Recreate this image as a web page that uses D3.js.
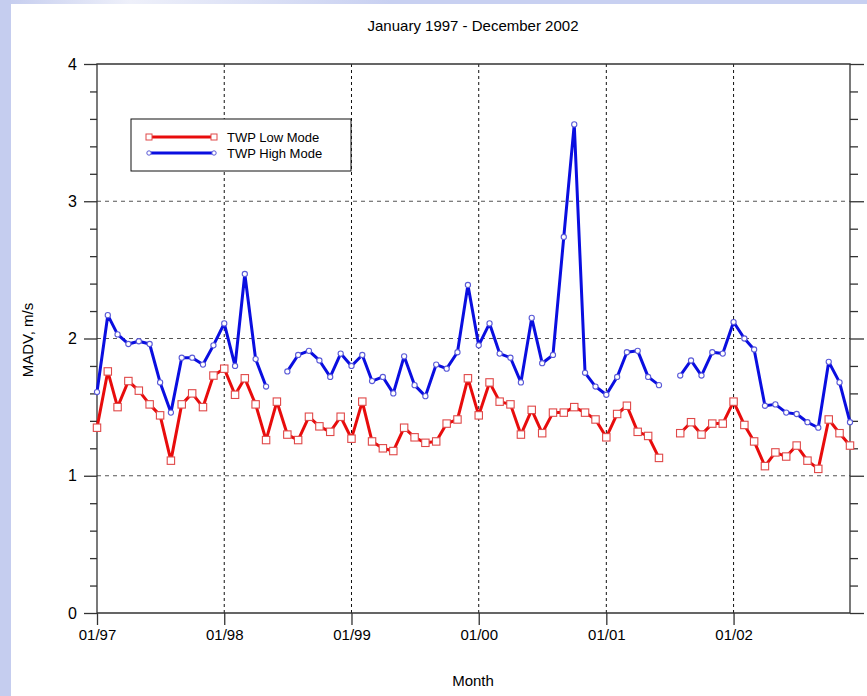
<!DOCTYPE html>
<html>
<head>
<meta charset="utf-8">
<script src="https://cdn.jsdelivr.net/npm/d3@7"></script>
<style>
    body { margin: 0; background: #fff; }
    svg { display: block; font-family: Arial, "Liberation Sans", sans-serif; }
</style>
</head>
<body>
<svg id="chart" width="867" height="696"></svg>
<script>
// monthly values, Jan 1997 .. Dec 2002 (null = no data)
var lowMode = [
    1.35, 1.76, 1.50, 1.69, 1.62, 1.52, 1.44, 1.11, 1.52, 1.60, 1.50, 1.73,
    1.78, 1.59, 1.71, 1.52, 1.26, 1.54, 1.30, 1.26, 1.43, 1.36, 1.32, 1.43,
    1.27, 1.54, 1.25, 1.20, 1.18, 1.35, 1.28, 1.24, 1.25, 1.38, 1.41, 1.71,
    1.44, 1.68, 1.54, 1.52, 1.30, 1.48, 1.31, 1.46, 1.46, 1.50, 1.46, 1.41,
    1.28, 1.45, 1.51, 1.32, 1.29, 1.13, null, 1.31, 1.39, 1.30, 1.38, 1.38,
    1.54, 1.37, 1.25, 1.07, 1.17, 1.14, 1.22, 1.11, 1.05, 1.41, 1.31, 1.22
];
var highMode = [
    1.61, 2.17, 2.03, 1.96, 1.98, 1.96, 1.68, 1.46, 1.86, 1.86, 1.81, 1.95,
    2.11, 1.80, 2.47, 1.85, 1.65, null, 1.76, 1.88, 1.91, 1.84, 1.72, 1.89,
    1.80, 1.88, 1.69, 1.72, 1.60, 1.87, 1.66, 1.58, 1.81, 1.78, 1.90, 2.39,
    1.95, 2.11, 1.89, 1.86, 1.68, 2.15, 1.82, 1.88, 2.74, 3.56, 1.75, 1.65,
    1.59, 1.72, 1.90, 1.91, 1.72, 1.66, null, 1.73, 1.84, 1.73, 1.90, 1.89,
    2.12, 2.00, 1.92, 1.51, 1.52, 1.46, 1.45, 1.39, 1.35, 1.83, 1.68, 1.39
];
var yearTicks = ["01/97", "01/98", "01/99", "01/00", "01/01", "01/02"];
var seriesNames = ["TWP Low Mode", "TWP High Mode"];
var subtitle = "January 1997 - December 2002";

var svg = d3.select("#chart");
var plotLeft = 97, plotRight = 850, plotTop = 64, plotBottom = 613;

var months = d3.range(lowMode.length).map(function (i) { return new Date(1997, i, 1); });
var yearDates = yearTicks.map(function (t) {
    var yy = +t.split('/')[1];
    return new Date(yy < 50 ? 2000 + yy : 1900 + yy, 0, 1);
});

var x = d3.scaleTime().domain([months[0], months[months.length - 1]]).range([plotLeft, plotRight]);
var y = d3.scaleLinear().domain([0, 4]).range([plotBottom, plotTop]);

// page backdrop (slide edge)
var defs = svg.append("defs");
var grad = defs.append("linearGradient").attr("id", "topband");
grad.append("stop").attr("offset", "0%").attr("stop-color", "#c3cbee");
grad.append("stop").attr("offset", "15%").attr("stop-color", "#eef0fa");
grad.append("stop").attr("offset", "45%").attr("stop-color", "#c8d0f1");
grad.append("stop").attr("offset", "100%").attr("stop-color", "#c8d0f1");
svg.append("rect").attr("width", 867).attr("height", 4).attr("fill", "url(#topband)");
svg.append("rect").attr("width", 11).attr("height", 696).attr("fill", "#c5cdef");

// grid
svg.append("g").selectAll("line")
    .data(yearDates.slice(1))
    .enter().append("line")
    .attr("x1", function (d) { return x(d); }).attr("x2", function (d) { return x(d); })
    .attr("y1", plotTop).attr("y2", plotBottom)
    .attr("stroke", "#111").attr("stroke-width", 1).attr("stroke-dasharray", "3,3");
svg.append("g").selectAll("line")
    .data([1, 2, 3])
    .enter().append("line")
    .attr("x1", plotLeft).attr("x2", plotRight)
    .attr("y1", function (d) { return y(d); }).attr("y2", function (d) { return y(d); })
    .attr("stroke", "#555").attr("stroke-width", 1.2).attr("stroke-dasharray", "4,4");

// axes
var minor = d3.range(0, 4.01, 0.2).filter(function (v) { return Math.abs(v - Math.round(v)) > 1e-6; });

function styleAxis(g) {
    g.select(".domain").remove();
    g.selectAll("line").attr("stroke", "#333").attr("stroke-width", 1.3);
    g.selectAll("text").attr("fill", "#000");
}

svg.append("g").attr("transform", "translate(" + plotLeft + ",0)")
    .call(d3.axisLeft(y).tickValues(minor).tickSize(7).tickFormat(""))
    .call(styleAxis);
svg.append("g").attr("transform", "translate(" + plotLeft + ",0)")
    .call(d3.axisLeft(y).tickValues([0, 1, 2, 3, 4]).tickSize(13).tickPadding(7).tickFormat(d3.format("d")))
    .call(styleAxis)
    .selectAll("text").style("font-size", "16px");

svg.append("g").attr("transform", "translate(" + plotRight + ",0)")
    .call(d3.axisRight(y).tickValues(minor).tickSize(8).tickFormat(""))
    .call(styleAxis);
svg.append("g").attr("transform", "translate(" + plotRight + ",0)")
    .call(d3.axisRight(y).tickValues([0, 1, 2, 3, 4]).tickSize(14).tickFormat(""))
    .call(styleAxis);

svg.append("g").attr("transform", "translate(0," + plotBottom + ")")
    .call(d3.axisBottom(x).tickValues(yearDates).tickSize(12).tickPadding(4)
        .tickFormat(function (d, i) { return yearTicks[i]; }))
    .call(styleAxis)
    .selectAll("text").style("font-size", "15px");

// frame
svg.append("path")
    .attr("d", "M" + plotLeft + "," + plotBottom + "V" + plotTop + "H" + plotRight + "V" + plotBottom + "H" + plotLeft)
    .attr("fill", "none").attr("stroke", "#333").attr("stroke-width", 1.3);

// series
var line = d3.line()
    .defined(function (d) { return d != null; })
    .x(function (d, i) { return x(months[i]); })
    .y(function (d) { return y(d); });

svg.append("path").datum(lowMode)
    .attr("d", line).attr("fill", "none")
    .attr("stroke", "#e80c0c").attr("stroke-width", 3).attr("stroke-linejoin", "round");
svg.append("path").datum(highMode)
    .attr("d", line).attr("fill", "none")
    .attr("stroke", "#0a0ee0").attr("stroke-width", 3).attr("stroke-linejoin", "round");

svg.append("g").selectAll("rect")
    .data(lowMode.map(function (v, i) { return { v: v, i: i }; }).filter(function (d) { return d.v != null; }))
    .enter().append("rect")
    .attr("x", function (d) { return x(months[d.i]) - 3.7; })
    .attr("y", function (d) { return y(d.v) - 3.7; })
    .attr("width", 7.4).attr("height", 7.4)
    .attr("fill", "#fff").attr("stroke", "#e04848").attr("stroke-width", 1.1);

svg.append("g").selectAll("circle")
    .data(highMode.map(function (v, i) { return { v: v, i: i }; }).filter(function (d) { return d.v != null; }))
    .enter().append("circle")
    .attr("cx", function (d) { return x(months[d.i]); })
    .attr("cy", function (d) { return y(d.v); })
    .attr("r", 2.6)
    .attr("fill", "#fff").attr("stroke", "#5a5ad8").attr("stroke-width", 1.1);

// legend
var legend = svg.append("g").attr("transform", "translate(131,119)");
legend.append("rect").attr("width", 220).attr("height", 52)
    .attr("fill", "#fff").attr("stroke", "#111").attr("stroke-width", 1);
legend.append("line").attr("x1", 18).attr("x2", 83).attr("y1", 18).attr("y2", 18)
    .attr("stroke", "#e80c0c").attr("stroke-width", 3);
legend.selectAll("rect.m").data([18, 83]).enter().append("rect").attr("class", "m")
    .attr("x", function (d) { return d - 3; }).attr("y", 15).attr("width", 6).attr("height", 6)
    .attr("fill", "#fff").attr("stroke", "#e04848").attr("stroke-width", 1);
legend.append("line").attr("x1", 18).attr("x2", 83).attr("y1", 34).attr("y2", 34)
    .attr("stroke", "#0a0ee0").attr("stroke-width", 3);
legend.selectAll("circle").data([18, 83]).enter().append("circle")
    .attr("cx", function (d) { return d; }).attr("cy", 34).attr("r", 2.2)
    .attr("fill", "#fff").attr("stroke", "#5a5ad8").attr("stroke-width", 1);
legend.selectAll("text").data(seriesNames).enter().append("text")
    .attr("x", 96).attr("y", function (d, i) { return 23 + i * 16; })
    .style("font-size", "13px").text(function (d) { return d; });

// titles
svg.append("text").attr("x", 473).attr("y", 31).attr("text-anchor", "middle")
    .style("font-size", "15px").text(subtitle);
svg.append("text").attr("x", 473).attr("y", 686).attr("text-anchor", "middle")
    .style("font-size", "15px").text("Month");
svg.append("text").attr("transform", "translate(33,340) rotate(-90)").attr("text-anchor", "middle")
    .style("font-size", "15px").text("MADV, m/s");
</script>
</body>
</html>
